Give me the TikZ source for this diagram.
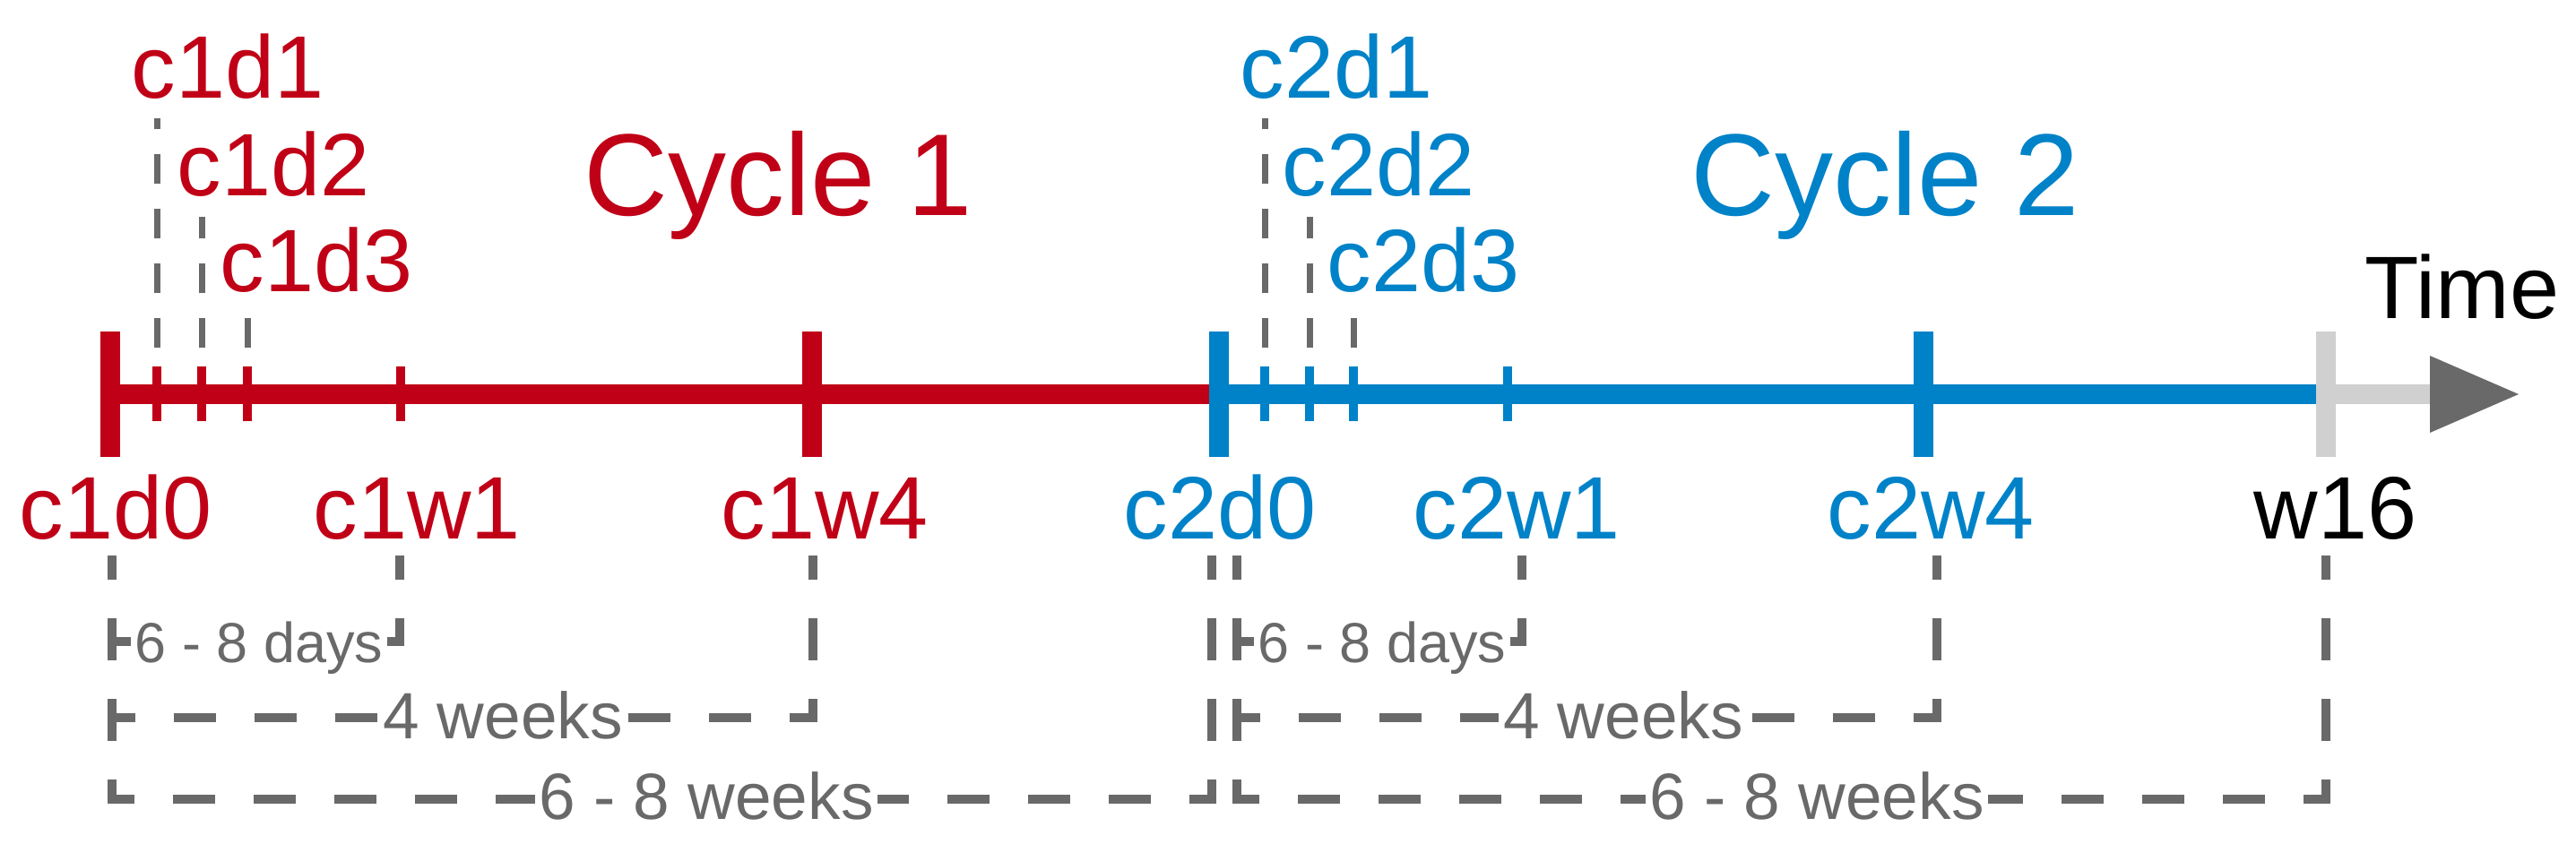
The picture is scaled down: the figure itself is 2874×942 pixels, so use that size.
\documentclass[tikz,border=0pt]{standalone}
\usepackage{fontspec}
\setmainfont{Liberation Sans}
\usetikzlibrary{calc}
\definecolor{cred}{RGB}{192,0,22}
\definecolor{cblue}{RGB}{0,130,200}
\definecolor{dgray}{RGB}{105,105,105}
\definecolor{lgray}{RGB}{208,208,208}
\pgfdeclarelayer{bg}
\pgfsetlayers{bg,main}
\begin{document}
\begin{tikzpicture}[x=0.25pt,y=-0.25pt,
  axis/.style={line width=5.5pt},
  bigtick/.style={line width=5.5pt},
  smalltick/.style={line width=2.5pt},
  guide/.style={draw=dgray,line width=1.75pt,dash pattern=on 8.25pt off 7pt},
  bracket/.style={draw=dgray,line width=2.3pt,dash pattern=on 11.75pt off 10.75pt,dash phase=5pt},
  lbl/.style={inner sep=0pt,font=\fontsize{24.75pt}{29pt}\selectfont},
  ttl/.style={inner sep=0pt,font=\fontsize{32.5pt}{38pt}\selectfont},
  dur/.style={fill=white,inner xsep=1pt,inner ysep=0pt,text=dgray},
  fdays/.style={font=\fontsize{15.75pt}{19pt}\selectfont},
  fweeks/.style={font=\fontsize{18.25pt}{22pt}\selectfont}]

\useasboundingbox (0,0) rectangle (2874,942);

% tick positions on the axis
\coordinate (c1d0) at (123,440);
\coordinate (c1d1) at (175,440);
\coordinate (c1d2) at (225,440);
\coordinate (c1d3) at (276,440);
\coordinate (c1w1) at (447,440);
\coordinate (c1w4) at (906,440);
\coordinate (c2d0) at (1360,440);
\coordinate (c2d1) at (1411,440);
\coordinate (c2d2) at (1461,440);
\coordinate (c2d3) at (1510,440);
\coordinate (c2w1) at (1682,440);
\coordinate (c2w4) at (2146,440);
\coordinate (w16) at (2595,440);
\coordinate (ahead) at (2711,440);
\coordinate (tip) at (2810,440);

% axis
\draw[axis,cred] (c1d0) -- (c2d0);
\draw[axis,cblue] (c2d0) -- (w16);
\draw[axis,lgray] (w16) -- (ahead);
\fill[dgray] ($(ahead)+(0,-43)$) -- (tip) -- ($(ahead)+(0,43)$) -- cycle;

% ticks
\foreach \n/\c in {c1d0/cred,c1w4/cred,c2d0/cblue,c2w4/cblue,w16/lgray}
  \draw[bigtick,\c] ($(\n)+(0,-70)$) -- ($(\n)+(0,70)$);
\foreach \n/\c in {c1d1/cred,c1d2/cred,c1d3/cred,c1w1/cred,c2d1/cblue,c2d2/cblue,c2d3/cblue,c2w1/cblue}
  \draw[smalltick,\c] ($(\n)+(0,-31)$) -- ($(\n)+(0,30)$);

% guides to the day labels
\foreach \n/\t in {c1d1/132,c1d2/242,c1d3/352,c2d1/132,c2d2/242,c2d3/352}
  \draw[guide] ($(\n)+(0,-52)$) -- ($(\n)+(0,\t-440)$);

% top labels
\node[lbl,cred,anchor=base west] (Lc1d1) at (146,109) {c1d1};
\node[lbl,cred,anchor=base west] (Lc1d2) at (197,218) {c1d2};
\node[lbl,cred,anchor=base west] (Lc1d3) at (245,325) {c1d3};
\node[lbl,cblue,anchor=base west] (Lc2d1) at (1383,109) {c2d1};
\node[lbl,cblue,anchor=base west] (Lc2d2) at (1430,218) {c2d2};
\node[lbl,cblue,anchor=base west] (Lc2d3) at (1480,325) {c2d3};

\node[ttl,cred,anchor=base west] (cyc1) at (651,240) {Cycle 1};
\node[ttl,cblue,anchor=base west] (cyc2) at (1886,240) {Cycle 2};
\node[lbl,anchor=base west] (time) at (2638,355) {Time};

% bottom labels
\node[lbl,cred,anchor=base west] (Lc1d0) at (21,601) {c1d0};
\node[lbl,cred,anchor=base west] (Lc1w1) at (349,601) {c1w1};
\node[lbl,cred,anchor=base west] (Lc1w4) at (804,601) {c1w4};
\node[lbl,cblue,anchor=base west] (Lc2d0) at (1253,601) {c2d0};
\node[lbl,cblue,anchor=base west] (Lc2w1) at (1576,601) {c2w1};
\node[lbl,cblue,anchor=base west] (Lc2w4) at (2038,601) {c2w4};
\node[lbl,anchor=base west] (Lw16) at (2514,601) {w16};

% duration labels
\node[dur,fdays,anchor=base] (D1) at (289,739) {6 - 8 days};
\node[dur,fdays,anchor=base] (D2) at (1542,739) {6 - 8 days};
\node[dur,fweeks,anchor=base] (W1) at (561,824) {4 weeks};
\node[dur,fweeks,anchor=base] (W2) at (1811,824) {4 weeks};
\node[dur,fweeks,anchor=base] (S1) at (788,914) {6 - 8 weeks};
\node[dur,fweeks,anchor=base] (S2) at (2027,914) {6 - 8 weeks};

% bracket rows and tops
\coordinate (rD) at (0,716);
\coordinate (rW) at (0,801);
\coordinate (rS) at (0,892);
\coordinate (p0) at (125,620);
\coordinate (p1) at (446,620);
\coordinate (p4) at (907,620);
\coordinate (p8) at (1352,620);
\coordinate (q0) at (1380,620);
\coordinate (q1) at (1698,620);
\coordinate (q4) at (2161,620);
\coordinate (q16) at (2595,620);

\begin{pgfonlayer}{bg}
\draw[bracket] (p0) -- (p0 |- rD) -- (rD -| D1.west);
\draw[bracket] (p1) -- (p1 |- rD) -- (rD -| D1.east);
\draw[bracket] (p0) -- (p0 |- rW) -- (rW -| W1.west);
\draw[bracket] (p4) -- (p4 |- rW) -- (rW -| W1.east);
\draw[bracket] (p0) -- (p0 |- rS) -- (rS -| S1.west);
\draw[bracket] (p8) -- (p8 |- rS) -- (rS -| S1.east);
\draw[bracket] (q0) -- (q0 |- rD) -- (rD -| D2.west);
\draw[bracket] (q1) -- (q1 |- rD) -- (rD -| D2.east);
\draw[bracket] (q0) -- (q0 |- rW) -- (rW -| W2.west);
\draw[bracket] (q4) -- (q4 |- rW) -- (rW -| W2.east);
\draw[bracket] (q0) -- (q0 |- rS) -- (rS -| S2.west);
\draw[bracket] (q16) -- (q16 |- rS) -- (rS -| S2.east);
\end{pgfonlayer}
\end{tikzpicture}
\end{document}
